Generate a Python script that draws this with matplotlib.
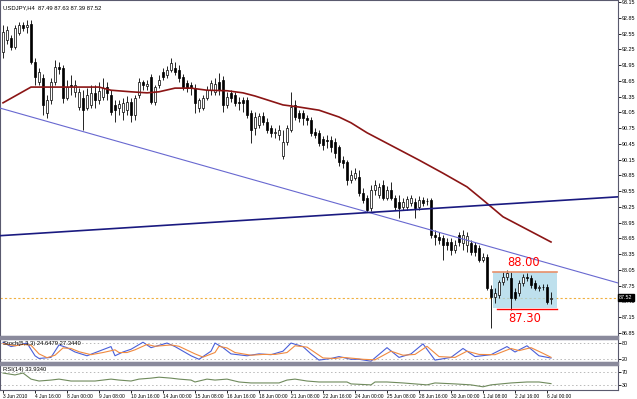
import matplotlib
matplotlib.use("Agg")
import matplotlib.pyplot as plt
from matplotlib.patches import Rectangle
import numpy as np

plt.rcParams["font.family"] = ["Liberation Sans Narrow", "Liberation Sans", "DejaVu Sans"]

# USDJPY H4 candles (bar 0 = 3 Jun 2010 08:00)
opens = [92.20, 92.43, 92.46, 92.29, 92.56, 92.71, 92.67, 92.73, 92.01, 91.63,
         91.70, 91.04, 91.28, 91.63, 91.91, 91.89, 91.32, 91.57, 91.44, 91.15,
         91.32, 91.13, 91.19, 91.42, 91.28, 91.34, 91.53, 91.38, 91.19, 91.13,
         91.06, 91.09, 91.25, 91.00, 91.38, 91.63, 91.55, 91.72, 91.25, 91.57,
         91.82, 91.76, 91.86, 91.89, 91.86, 91.72, 91.61, 91.57, 91.51, 91.13,
         91.13, 91.32, 91.47, 91.44, 91.63, 91.66, 91.19, 91.42, 91.38, 91.25,
         91.28, 91.28, 91.04, 90.75, 90.81, 90.98, 90.87, 90.75, 90.66, 90.62,
         90.22, 90.48, 90.71, 91.19, 91.04, 91.04, 90.94, 90.90, 90.67, 90.66,
         90.54, 90.52, 90.52, 90.48, 90.39, 90.14, 90.10, 89.76, 89.80, 89.82,
         89.51, 89.42, 89.23, 89.57, 89.48, 89.67, 89.42, 89.57, 89.42, 89.34,
         89.25, 89.25, 89.32, 89.34, 89.25, 89.38, 89.36, 89.38, 88.71, 88.68,
         88.66, 88.58, 88.58, 88.43, 88.71, 88.56, 88.52, 88.56, 88.52, 88.47,
         88.24, 88.29, 87.69, 87.53, 87.57, 87.82, 87.91, 87.89, 87.63, 87.61,
         87.80, 87.91, 87.89, 87.80, 87.71, 87.72, 87.72, 87.49]
highs = [92.71, 92.69, 92.52, 92.71, 92.77, 92.77, 92.81, 92.81, 92.08, 91.89,
         91.78, 91.38, 91.70, 92.05, 92.01, 91.95, 91.66, 91.76, 91.66, 91.51,
         91.47, 91.51, 91.57, 91.57, 91.63, 91.70, 91.63, 91.47, 91.28, 91.28,
         91.32, 91.36, 91.32, 91.38, 91.70, 91.66, 91.66, 91.78, 91.57, 91.76,
         91.89, 91.93, 92.08, 92.01, 91.95, 91.78, 91.66, 91.63, 91.59, 91.32,
         91.38, 91.55, 91.66, 91.70, 91.80, 91.74, 91.44, 91.47, 91.44, 91.34,
         91.34, 91.34, 91.09, 91.06, 91.04, 91.06, 90.94, 90.81, 90.75, 90.81,
         90.71, 90.81, 91.44, 91.28, 91.09, 91.09, 91.00, 90.96, 90.75, 90.71,
         90.60, 90.62, 90.60, 90.56, 90.43, 90.22, 90.14, 89.95, 89.99, 89.95,
         89.61, 89.48, 89.67, 89.76, 89.70, 89.76, 89.65, 89.72, 89.48, 89.48,
         89.42, 89.46, 89.48, 89.42, 89.46, 89.44, 89.42, 89.42, 88.81, 88.77,
         88.71, 88.66, 88.66, 88.62, 88.77, 88.81, 88.77, 88.62, 88.58, 88.52,
         88.37, 88.35, 87.76, 87.71, 87.86, 88.01, 88.05, 88.01, 87.71, 87.86,
         87.97, 87.99, 87.95, 87.86, 87.76, 87.78, 87.78, 87.63]
lows = [92.08, 92.35, 92.24, 92.25, 92.52, 92.60, 92.56, 91.97, 91.57, 91.57,
        91.00, 90.94, 91.21, 91.57, 91.78, 91.23, 91.28, 91.38, 91.34, 91.09,
        90.71, 91.09, 91.13, 91.13, 91.21, 91.28, 91.28, 91.00, 90.87, 91.00,
        90.90, 91.00, 90.87, 90.90, 91.32, 91.47, 91.47, 91.21, 91.19, 91.51,
        91.66, 91.70, 91.82, 91.76, 91.63, 91.47, 91.44, 91.38, 91.04, 91.06,
        91.09, 91.28, 91.38, 91.38, 91.38, 91.06, 91.13, 91.25, 91.17, 91.09,
        91.06, 90.94, 90.47, 90.62, 90.75, 90.81, 90.66, 90.58, 90.56, 90.52,
        90.16, 90.43, 90.67, 90.90, 90.87, 90.81, 90.81, 90.60, 90.56, 90.41,
        90.33, 90.37, 90.29, 90.18, 90.03, 89.99, 89.67, 89.70, 89.76, 89.46,
        89.32, 89.15, 89.17, 89.48, 89.42, 89.38, 89.38, 89.38, 89.19, 89.04,
        89.19, 89.19, 89.27, 89.04, 89.19, 89.27, 89.29, 88.66, 88.52, 88.54,
        88.24, 88.43, 88.33, 88.37, 88.50, 88.43, 88.39, 88.33, 88.31, 88.20,
        88.20, 87.67, 86.94, 87.42, 87.51, 87.76, 87.86, 87.29, 87.48, 87.55,
        87.74, 87.84, 87.71, 87.67, 87.65, 87.67, 87.40, 87.39]
closes = [92.58, 92.62, 92.29, 92.65, 92.71, 92.65, 92.71, 92.01, 91.72, 91.82,
          91.19, 91.28, 91.63, 91.91, 91.87, 91.32, 91.53, 91.55, 91.57, 91.44,
          91.09, 91.38, 91.42, 91.28, 91.46, 91.51, 91.42, 91.06, 91.09, 91.21,
          91.23, 91.25, 91.00, 91.32, 91.63, 91.57, 91.59, 91.25, 91.53, 91.66,
          91.72, 91.86, 91.99, 91.82, 91.70, 91.53, 91.51, 91.51, 91.23, 91.28,
          91.32, 91.47, 91.61, 91.59, 91.47, 91.19, 91.34, 91.32, 91.23, 91.23,
          91.23, 91.00, 90.71, 90.96, 90.98, 90.87, 90.71, 90.66, 90.66, 90.71,
          90.48, 90.75, 91.15, 90.96, 90.94, 90.94, 90.90, 90.66, 90.62, 90.47,
          90.43, 90.50, 90.39, 90.27, 90.10, 90.08, 89.76, 89.86, 89.89, 89.51,
          89.38, 89.19, 89.57, 89.67, 89.63, 89.42, 89.57, 89.42, 89.25, 89.23,
          89.34, 89.40, 89.42, 89.23, 89.38, 89.32, 89.36, 88.71, 88.68, 88.62,
          88.52, 88.52, 88.43, 88.52, 88.58, 88.71, 88.69, 88.39, 88.39, 88.24,
          88.29, 87.71, 87.53, 87.61, 87.82, 87.91, 87.99, 87.51, 87.51, 87.80,
          87.91, 87.89, 87.76, 87.71, 87.71, 87.72, 87.44, 87.52]

# moving average (dark red line), vertices
ma_bar = [0, 7, 19, 24, 27, 32, 36, 39, 43, 47, 51, 56, 60, 63, 70, 74, 79,
          84, 87, 91, 94, 104, 110, 116, 120, 125, 137]
ma_val = [91.23, 91.53, 91.53, 91.53, 91.47, 91.44, 91.42, 91.44, 91.51, 91.51,
          91.47, 91.46, 91.42, 91.36, 91.19, 91.15, 91.09, 90.96, 90.85, 90.66,
          90.54, 90.14, 89.89, 89.63, 89.38, 89.06, 88.58]

# trend lines: (bar, price) end points
trend_blue_bar = [-0.75, 153.75]
trend_blue_val = [91.13, 87.80]
trend_navy_bar = [-0.75, 153.75]
trend_navy_val = [88.70, 89.44]

# range box
box_top = 88.00
box_bottom = 87.33
box_line_low = 87.30
box_bar = [122.5, 138.5]
last_price = 87.52

# Stochastic (5,3,3)
stoch_bar = [0, 2, 4, 6, 8, 9, 12, 13, 14, 16, 18, 21, 24, 27, 28, 30, 32, 35,
             37, 41, 43, 47, 49, 52, 53, 55, 57, 61, 64, 67, 70, 72, 75, 77,
             79, 82, 84, 87, 89, 92, 96, 99, 102, 105, 108, 112, 115, 118, 122,
             126, 128, 131, 134, 137]
stoch_main = [83, 67, 73, 80, 33, 23, 27, 50, 73, 63, 47, 33, 50, 67, 33, 47,
              57, 83, 63, 80, 67, 33, 20, 50, 80, 63, 40, 33, 40, 37, 50, 80,
              67, 40, 17, 23, 30, 20, 20, 13, 63, 27, 40, 77, 17, 27, 60, 30,
              37, 67, 47, 70, 33, 24.65]
sig_bar = [0, 3, 5, 7, 9, 11, 13, 15, 17, 19, 22, 25, 28, 29, 31, 33, 36, 38,
           42, 44, 48, 50, 53, 54, 56, 58, 62, 65, 68, 71, 73, 76, 78, 80, 83,
           85, 88, 90, 93, 97, 100, 103, 106, 109, 113, 116, 119, 123, 127,
           129, 132, 135, 137]
stoch_sig = [78, 70, 75, 72, 40, 26, 35, 62, 60, 48, 37, 45, 55, 45, 45, 55,
             75, 68, 73, 68, 40, 28, 45, 68, 62, 45, 35, 38, 38, 45, 70, 65,
             45, 25, 23, 27, 23, 20, 18, 50, 35, 38, 68, 30, 27, 50, 38, 37,
             60, 52, 63, 42, 27.34]

# RSI(14)
rsi_bar = [0, 3, 5, 7, 9, 12, 14, 17, 23, 27, 29, 32, 34, 37, 39, 42, 44, 47,
           48, 51, 53, 56, 59, 62, 65, 69, 71, 73, 76, 79, 82, 86, 87, 92, 93,
           96, 100, 106, 108, 113, 117, 120, 122, 127, 131, 134, 137]
rsi_val = [67, 61, 67, 48, 42, 45, 48, 42, 42, 48, 45, 42, 48, 51, 54, 51, 48,
           45, 39, 48, 45, 48, 39, 36, 36, 36, 45, 48, 42, 39, 39, 39, 33, 30,
           39, 39, 36, 30, 36, 33, 30, 24, 30, 36, 39, 39, 33.93]

time_labels = ["3 Jun 2010", "4 Jun 16:00", "8 Jun 00:00", "9 Jun 08:00",
               "10 Jun 16:00", "14 Jun 00:00", "15 Jun 08:00", "16 Jun 16:00",
               "18 Jun 00:00", "21 Jun 08:00", "22 Jun 16:00", "24 Jun 00:00",
               "25 Jun 08:00", "28 Jun 16:00", "30 Jun 00:00", "1 Jul 08:00",
               "2 Jul 16:00", "6 Jul 00:00"]
price_ticks = [93.15 - 0.30 * k for k in range(22)]

FS = 3.9
FS_TIME = 3.5
W, H = 637, 399
fig = plt.figure(figsize=(W / 100, H / 100), dpi=100)
fig.patch.set_facecolor("white")

def px_axes(x0, y0, x1, y1):
    return fig.add_axes([x0 / W, 1 - y1 / H, (x1 - x0) / W, (y1 - y0) / H])

ax = px_axes(0, 0, 618, 336)
ax_st = px_axes(0, 339, 618, 362)
ax_rsi = px_axes(0, 365, 618, 390)

frame_col = "#5a5a6e"
xl = (-0.75, 153.75)
for a in (ax, ax_st, ax_rsi):
    a.set_xlim(*xl)
    a.set_facecolor("white")
    for s in a.spines.values():
        s.set_color(frame_col)
        s.set_linewidth(0.8)
    a.yaxis.tick_right()
    a.tick_params(axis="y", direction="out", length=2, width=0.6, pad=1,
                  labelsize=FS, colors="black")
    a.tick_params(axis="x", length=0)
    a.set_xticks([])

# separators between panels
for y0 in (336, 362):
    fig.patches.append(Rectangle((0, 1 - (y0 + 3) / H), 618 / W, 3 / H,
                                 transform=fig.transFigure, color="#8a8a9c",
                                 zorder=5))

# --- main panel ---
ax.set_ylim(86.79, 93.188)
ax.set_yticks(price_ticks)
ax.set_yticklabels([f"{p:.2f}" for p in price_ticks])

x = np.arange(len(closes))
o = np.array(opens)
c = np.array(closes)
ax.vlines(x, lows, highs, color="black", lw=0.6, zorder=2)
up = c >= o
body_h = np.maximum(np.abs(c - o), 0.008)
body_b = np.minimum(o, c)
ax.bar(x[up], body_h[up], bottom=body_b[up], width=0.6, color="white",
       edgecolor="black", linewidth=0.5, zorder=3)
ax.bar(x[~up], body_h[~up], bottom=body_b[~up], width=0.6, color="black",
       edgecolor="black", linewidth=0.5, zorder=3)

ax.plot(ma_bar, ma_val, color="#8b1515", lw=1.2, zorder=4)
ax.plot(trend_blue_bar, trend_blue_val, color="#6868d0", lw=0.8, zorder=4)
ax.plot(trend_navy_bar, trend_navy_val, color="#1a1a80", lw=1.2, zorder=4)

ax.axhline(last_price, color="#f0b040", lw=0.8, ls=(0, (2, 2)), zorder=1)

ax.add_patch(Rectangle((box_bar[0], box_bottom), box_bar[1] - box_bar[0],
                       box_top - box_bottom, facecolor="#a8d6e8", alpha=0.75,
                       edgecolor="none", zorder=1))
ax.plot(box_bar, [box_top, box_top], color="#e8906a", lw=1.2, zorder=4)
ax.plot([box_bar[0] + 1, box_bar[1]], [box_line_low, box_line_low],
        color="#ff0000", lw=1.0, zorder=4)
ax.text(130.25, box_top + 0.07, "88.00", color="#ff0000", fontsize=8.3,
        family="DejaVu Sans", ha="center", va="bottom", zorder=6)
ax.text(130.5, box_line_low - 0.06, "87.30", color="#ff0000", fontsize=8.3,
        family="DejaVu Sans", ha="center", va="top", zorder=6)

ax.text(0.005, 0.985, "USDJPY,H4  87.49 87.63 87.39 87.52", transform=ax.transAxes,
        fontsize=FS + 0.3, ha="left", va="top", color="black")
ax.text(1.002, last_price, f"{last_price:.2f}", transform=ax.get_yaxis_transform(),
        fontsize=FS, ha="left", va="center", color="white", zorder=10,
        bbox=dict(boxstyle="square,pad=0.2", facecolor="black", edgecolor="black"),
        clip_on=False)

# --- stochastic ---
ax_st.set_ylim(10, 95)
ax_st.set_yticks([80, 20])
ax_st.set_yticklabels(["80", "20"])
for lv in (80, 20):
    ax_st.axhline(lv, color="#b8b8b8", lw=0.7, ls=(0, (1.5, 2.5)))
ax_st.plot(stoch_bar, stoch_main, color="#4a5fd8", lw=0.8)
ax_st.plot(sig_bar, stoch_sig, color="#f08a40", lw=0.8)
ax_st.text(0.005, 0.93, "Stoch(5,3,3) 24.6479 27.3440", transform=ax_st.transAxes,
           fontsize=FS + 0.3, ha="left", va="top", color="black")

# --- RSI ---
ax_rsi.set_ylim(14, 92)
ax_rsi.set_yticks([70, 30])
ax_rsi.set_yticklabels(["70", "30"])
for lv in (70, 30):
    ax_rsi.axhline(lv, color="#b8b8b8", lw=0.7, ls=(0, (1.5, 2.5)))
ax_rsi.plot(rsi_bar, rsi_val, color="#6f8a5c", lw=0.8)
ax_rsi.text(0.005, 0.93, "RSI(14) 33.9340", transform=ax_rsi.transAxes,
            fontsize=FS + 0.3, ha="left", va="top", color="black")

ax_rsi.set_xticks(np.arange(0, 8 * len(time_labels), 8))
ax_rsi.set_xticklabels(time_labels, fontsize=FS_TIME, ha="left")
ax_rsi.tick_params(axis="x", length=2, width=0.6, pad=1, direction="out")

fig.savefig("out.png", dpi=100)
